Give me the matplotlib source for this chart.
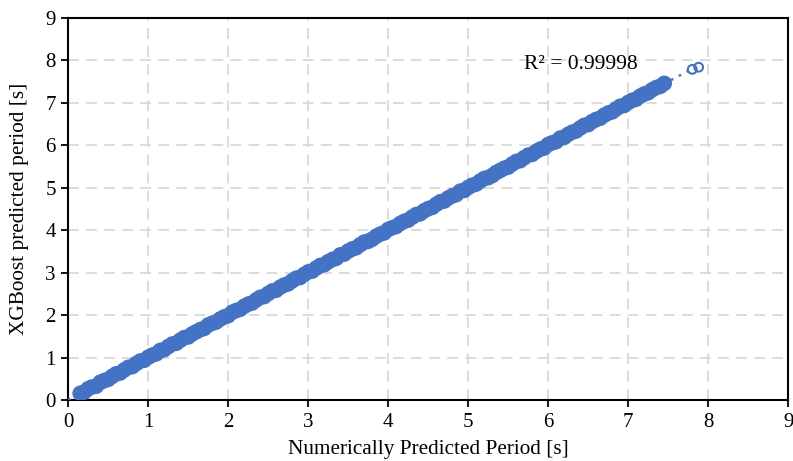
import matplotlib
matplotlib.use("Agg")
import matplotlib.pyplot as plt
import numpy as np

plt.rcParams['font.family'] = ['Liberation Serif', 'DejaVu Serif']

# Numerically predicted period [s] vs XGBoost predicted period [s]
numerical = [
    0.15, 0.20, 0.25, 0.30, 0.35, 0.40, 0.45, 0.50, 0.55, 0.60,
    0.65, 0.70, 0.75, 0.80, 0.85, 0.90, 0.95, 1.00, 1.05, 1.10,
    1.15, 1.20, 1.25, 1.30, 1.35, 1.40, 1.45, 1.50, 1.55, 1.60,
    1.65, 1.70, 1.75, 1.80, 1.85, 1.90, 1.95, 2.00, 2.05, 2.10,
    2.15, 2.20, 2.25, 2.30, 2.35, 2.40, 2.45, 2.50, 2.55, 2.60,
    2.65, 2.70, 2.75, 2.80, 2.85, 2.90, 2.95, 3.00, 3.05, 3.10,
    3.15, 3.20, 3.25, 3.30, 3.35, 3.40, 3.45, 3.50, 3.55, 3.60,
    3.65, 3.70, 3.75, 3.80, 3.85, 3.90, 3.95, 4.00, 4.05, 4.10,
    4.15, 4.20, 4.25, 4.30, 4.35, 4.40, 4.45, 4.50, 4.55, 4.60,
    4.65, 4.70, 4.75, 4.80, 4.85, 4.90, 4.95, 5.00, 5.05, 5.10,
    5.15, 5.20, 5.25, 5.30, 5.35, 5.40, 5.45, 5.50, 5.55, 5.60,
    5.65, 5.70, 5.75, 5.80, 5.85, 5.90, 5.95, 6.00, 6.05, 6.10,
    6.15, 6.20, 6.25, 6.30, 6.35, 6.40, 6.45, 6.50, 6.55, 6.60,
    6.65, 6.70, 6.75, 6.80, 6.85, 6.90, 6.95, 7.00, 7.05, 7.10,
    7.15, 7.20, 7.25, 7.30, 7.35, 7.40, 7.45, 7.80, 7.88,
]
xgboost = [
    0.16, 0.19, 0.27, 0.31, 0.33, 0.42, 0.46, 0.49, 0.56, 0.62,
    0.64, 0.71, 0.77, 0.79, 0.86, 0.92, 0.94, 1.01, 1.06, 1.09,
    1.17, 1.19, 1.26, 1.32, 1.34, 1.41, 1.47, 1.49, 1.56, 1.61,
    1.66, 1.69, 1.77, 1.81, 1.84, 1.91, 1.96, 1.99, 2.07, 2.11,
    2.14, 2.21, 2.26, 2.29, 2.36, 2.42, 2.44, 2.51, 2.57, 2.59,
    2.66, 2.71, 2.74, 2.81, 2.87, 2.89, 2.96, 3.02, 3.04, 3.11,
    3.17, 3.19, 3.26, 3.31, 3.34, 3.42, 3.44, 3.51, 3.56, 3.59,
    3.66, 3.72, 3.74, 3.79, 3.86, 3.91, 3.94, 4.02, 4.06, 4.09,
    4.16, 4.21, 4.24, 4.31, 4.37, 4.39, 4.46, 4.51, 4.54, 4.61,
    4.67, 4.69, 4.76, 4.81, 4.84, 4.92, 4.94, 5.01, 5.06, 5.09,
    5.16, 5.22, 5.24, 5.29, 5.36, 5.41, 5.46, 5.49, 5.56, 5.62,
    5.64, 5.71, 5.77, 5.79, 5.86, 5.91, 5.94, 6.02, 6.06, 6.09,
    6.17, 6.19, 6.26, 6.31, 6.34, 6.41, 6.47, 6.49, 6.56, 6.61,
    6.64, 6.71, 6.76, 6.79, 6.86, 6.92, 6.94, 7.01, 7.06, 7.09,
    7.16, 7.21, 7.24, 7.31, 7.36, 7.39, 7.46, 7.79, 7.84,
]
r2_label = "R² = 0.99998"

blue = "#4472C4"
grid_gray = "#D9D9D9"

fig = plt.figure(figsize=(7.93, 4.61), dpi=100)
ax = fig.add_axes([0.086, 0.132, 0.908, 0.829])

# dense band of results, then the two isolated long-period points
ax.scatter(numerical[:-2], xgboost[:-2], s=56, facecolors="none",
           edgecolors=blue, linewidths=3.8, zorder=3)
ax.scatter(numerical[-2:], xgboost[-2:], s=40, facecolors="none",
           edgecolors=blue, linewidths=1.5, zorder=3)

# linear trendline, like the spreadsheet one
slope, intercept = np.polyfit(numerical, xgboost, 1)
tx = np.array([0.0, 7.9])
ax.plot(tx, slope * tx + intercept, color=blue, linestyle=(0, (1, 2.5)),
        linewidth=1.8, zorder=4)

ax.text(5.7, 7.9, r2_label, fontsize=15.5, ha="left", va="center")

ax.set_xlim(0, 9)
ax.set_ylim(0, 9)
ax.set_xticks(range(0, 10))
ax.set_yticks(range(0, 10))
ax.tick_params(direction="out", length=5, width=1.3, labelsize=15, pad=4)
ax.grid(True, color=grid_gray, linestyle=(0, (6, 4)), linewidth=1.3)
ax.set_axisbelow(True)
for sp in ax.spines.values():
    sp.set_linewidth(1.5)
    sp.set_color("black")

ax.set_xlabel("Numerically Predicted Period [s]", fontsize=15.3, labelpad=6)
ax.set_ylabel("XGBoost predicted period [s]", fontsize=15.3, labelpad=12)

fig.savefig("out.png", dpi=100)
